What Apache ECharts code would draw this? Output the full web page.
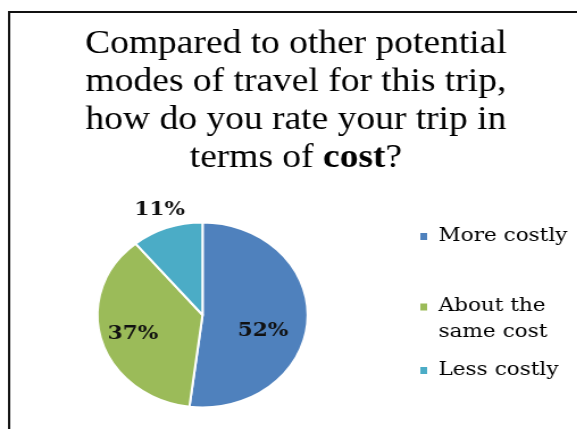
<!DOCTYPE html>
<html>
<head>
<meta charset="utf-8">
<script src="https://cdn.jsdelivr.net/npm/echarts@6/dist/echarts.min.js"></script>
<style>
  html, body { margin: 0; padding: 0; background: #fff; overflow: hidden; }
  #wrap { width: 577px; height: 429px; overflow: hidden; }
  /* the reference picture is stretched horizontally (its pie is an ellipse) */
  #chart { width: 508px; height: 429px; transform: scaleX(1.136); transform-origin: 0 0; }
</style>
</head>
<body>
<div id="wrap"><div id="chart"></div></div>
<script>
// ---- data ----
const categories = ['More costly', 'About the same cost', 'Less costly'];
const values = [52, 37, 11];
const legendLabels = ['More costly', 'About the\nsame cost', 'Less costly'];
const titleLines = ['Compared to other potential', 'modes of travel for this trip,', 'how do you rate your trip in', 'terms of {b|cost}?'];

// ---- styles ----
const colors = ['#4F81BD', '#9BBB59', '#4BACC6'];
const labelNudges = [[4, 13], [-14, 5], [-21, -59]];
const legendTops = [224.5, 293, 358.5];

const chart = echarts.init(document.getElementById('chart'), null, { renderer: 'canvas' });

const legendFont = { fontFamily: 'DejaVu Serif', fontSize: 19, color: '#000' };

const legends = categories.map((name, i) => {
  const twoLine = legendLabels[i].includes('\n');
  return {
    orient: 'vertical',
    left: 370,
    top: legendTops[i],
    padding: 0,
    selectedMode: false,
    // for the two-line entry the square sits beside the first line
    icon: twoLine ? 'path://M0,0H6V7H0ZM0,31H6' : 'rect',
    itemWidth: 6,
    itemHeight: twoLine ? 31 : 7,
    itemStyle: { borderWidth: 0, borderColor: 'transparent' },
    data: [name],
    formatter: () => legendLabels[i],
    textStyle: Object.assign({}, legendFont, {
      lineHeight: twoLine ? 26 : 24,
      padding: [0, 0, 0, 5]
    })
  };
});

chart.setOption({
  animation: false,
  color: colors,
  legend: legends,
  graphic: [
    {
      type: 'rect',
      silent: true,
      shape: { x: 8, y: 12, width: 700, height: 600 },
      style: { fill: 'none', stroke: '#111', lineWidth: 2 }
    },
    {
      type: 'text',
      silent: true,
      x: 260.5,
      y: 25,
      style: {
        text: titleLines.join('\n'),
        align: 'center',
        verticalAlign: 'top',
        fontFamily: 'Liberation Serif',
        fontSize: 33,
        lineHeight: 38,
        fill: '#000',
        rich: {
          b: { fontFamily: 'Liberation Serif', fontSize: 33, fontWeight: 'bold', lineHeight: 38, fill: '#000' }
        }
      }
    }
  ],
  series: [{
    type: 'pie',
    center: [178.3, 315],
    radius: 92.5,
    startAngle: 90,
    clockwise: true,
    avoidLabelOverlap: false,
    itemStyle: { borderColor: '#fff', borderWidth: 2 },
    label: {
      show: true,
      position: 'inside',
      formatter: '{c}%',
      fontFamily: 'DejaVu Serif',
      fontSize: 19,
      fontWeight: 'bold',
      color: '#111'
    },
    labelLine: { show: false },
    labelLayout: function (params) {
      const n = labelNudges[params.dataIndex];
      return { dx: n[0], dy: n[1] };
    },
    emphasis: { disabled: true },
    data: categories.map((name, i) => ({ name: name, value: values[i] }))
  }]
});
</script>
</body>
</html>
